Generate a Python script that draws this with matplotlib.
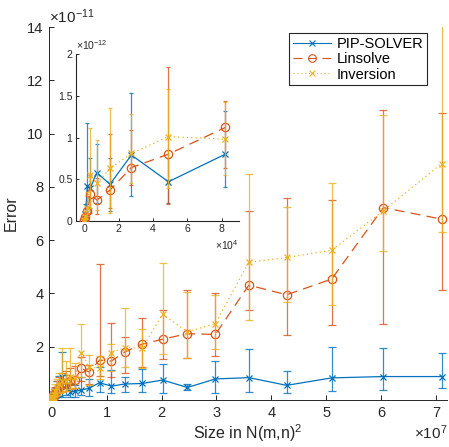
import numpy as np
import matplotlib
matplotlib.use('Agg')
import matplotlib.pyplot as plt
from matplotlib.ticker import ScalarFormatter
from matplotlib.lines import Line2D

plt.rcParams['font.family'] = ['Liberation Sans', 'DejaVu Sans']
plt.rcParams['mathtext.fontset'] = 'custom'
plt.rcParams['mathtext.rm'] = 'Liberation Sans'
plt.rcParams['mathtext.it'] = 'Liberation Sans:italic'
plt.rcParams['mathtext.bf'] = 'Liberation Sans:bold'

BLUE = '#0072BD'
ORANGE = '#D95319'
YELLOW = '#EDB120'

# ---------------- data ----------------
# small problems (shown in the inset): size in 1e4, errors in 1e-12
size_small = np.array([0.005, 0.02, 0.08, 0.19, 0.37, 0.74, 1.5, 2.75, 4.9, 8.2]) * 1e4
pip_small = np.array([0.003, 0.01, 0.08, 0.42, 0.40, 0.58, 0.44, 0.79, 0.47, 0.80]) * 1e-12
pip_small_lo = np.array([0.001, 0.005, 0.03, 0.17, 0.15, 0.21, 0.12, 0.30, 0.22, 0.41]) * 1e-12
pip_small_hi = np.array([0.01, 0.03, 0.20, 1.17, 0.76, 0.92, 0.76, 1.53, 0.75, 1.32]) * 1e-12
lin_small = np.array([0.002, 0.01, 0.05, 0.12, 0.32, 0.25, 0.37, 0.64, 0.80, 1.12]) * 1e-12
lin_small_lo = np.array([0.001, 0.003, 0.02, 0.05, 0.10, 0.08, 0.15, 0.43, 0.20, 0.63]) * 1e-12
lin_small_hi = np.array([0.005, 0.02, 0.10, 0.30, 0.55, 0.52, 1.04, 1.09, 1.85, 1.44]) * 1e-12
inv_small = np.array([0.003, 0.015, 0.06, 0.16, 0.55, 0.45, 0.63, 0.81, 1.01, 0.98]) * 1e-12
inv_small_lo = np.array([0.001, 0.005, 0.02, 0.06, 0.15, 0.13, 0.10, 0.45, 0.40, 0.55]) * 1e-12
inv_small_hi = np.array([0.008, 0.03, 0.12, 0.35, 1.11, 0.97, 1.35, 1.28, 1.58, 1.43]) * 1e-12

# large problems: size in 1e7, errors in 1e-11
size_large = np.array([0.015, 0.035, 0.06, 0.1, 0.14, 0.19, 0.26, 0.34, 0.42, 0.54, 0.68, 0.87,
                       1.085, 1.33, 1.65, 2.02, 2.47, 2.98, 3.59, 4.28, 5.10, 6.04, 7.10]) * 1e7
pip_large = np.array([0.10, 0.15, 0.22, 0.30, 0.45, 0.87, 0.55, 0.30, 0.32, 0.375, 0.44, 0.65,
                      0.52, 0.60, 0.62, 0.75, 0.47, 0.79, 0.84, 0.55, 0.83, 0.88, 0.88]) * 1e-11
pip_large_lo = np.array([0.02, 0.05, 0.08, 0.12, 0.15, 0.10, 0.20, 0.12, 0.10, 0.19, 0.15, 0.31,
                         0.28, 0.31, 0.30, 0.25, 0.37, 0.28, 0.31, 0.25, 0.35, 0.37, 0.44]) * 1e-11
pip_large_hi = np.array([0.25, 0.35, 0.45, 0.70, 0.90, 1.80, 0.95, 0.60, 0.55, 0.87, 0.80, 1.25,
                         1.12, 0.87, 1.15, 1.35, 0.60, 1.47, 1.92, 1.09, 2.00, 1.96, 1.75]) * 1e-11
lin_large = np.array([0.10, 0.18, 0.28, 0.38, 0.48, 0.55, 0.65, 0.70, 0.75, 1.19, 1.05, 1.50,
                      1.46, 1.80, 2.10, 2.28, 2.49, 2.46, 4.31, 3.95, 4.54, 7.22, 6.79]) * 1e-11
lin_large_lo = np.array([0.05, 0.08, 0.12, 0.18, 0.25, 0.30, 0.35, 0.40, 0.45, 0.70, 0.60, 0.90,
                         0.87, 1.00, 1.23, 1.53, 1.59, 1.65, 3.37, 2.44, 2.80, 2.85, 4.12]) * 1e-11
lin_large_hi = np.array([0.20, 0.35, 0.50, 0.70, 0.85, 1.00, 1.10, 1.20, 1.27, 1.60, 1.30, 5.12,
                         2.90, 2.37, 3.06, 3.37, 4.12, 4.00, 7.10, 7.60, 7.52, 10.9, 10.77]) * 1e-11
inv_large = np.array([0.12, 0.22, 0.35, 0.45, 0.60, 0.70, 0.72, 0.87, 0.82, 1.75, 1.25, 1.19,
                      1.78, 1.97, 1.95, 3.22, 2.56, 2.87, 5.17, 5.35, 5.62, 7.10, 8.87]) * 1e-11
inv_large_lo = np.array([0.05, 0.10, 0.15, 0.20, 0.25, 0.30, 0.35, 0.40, 0.45, 0.85, 0.55, 0.80,
                         1.10, 1.25, 1.20, 1.72, 1.59, 1.91, 3.00, 3.66, 3.57, 5.60, 6.31]) * 1e-11
inv_large_hi = np.array([0.25, 0.40, 0.60, 0.80, 1.00, 1.94, 1.45, 1.94, 1.40, 2.85, 1.70, 1.65,
                         2.12, 3.44, 2.65, 5.15, 4.05, 3.93, 8.47, 7.25, 8.16, 10.7, 14.07]) * 1e-11

labels = ['PIP-SOLVER', 'Linsolve', 'Inversion']

# full series for the main axes
size_all = np.concatenate([size_small, size_large])
series_main = [
    (np.concatenate([pip_small, pip_large]), np.concatenate([pip_small_lo, pip_large_lo]),
     np.concatenate([pip_small_hi, pip_large_hi])),
    (np.concatenate([lin_small, lin_large]), np.concatenate([lin_small_lo, lin_large_lo]),
     np.concatenate([lin_small_hi, lin_large_hi])),
    (np.concatenate([inv_small, inv_large]), np.concatenate([inv_small_lo, inv_large_lo]),
     np.concatenate([inv_small_hi, inv_large_hi])),
]
series_small = [
    (pip_small, pip_small_lo, pip_small_hi),
    (lin_small, lin_small_lo, lin_small_hi),
    (inv_small, inv_small_lo, inv_small_hi),
]

styles = [
    dict(color=BLUE, marker='x', ls='-'),
    dict(color=ORANGE, marker='o', ls=(0, (8, 5))),
    dict(color=YELLOW, marker='x', ls=(0, (1, 2.5))),
]


class MFormatter(ScalarFormatter):
    def __call__(self, x, pos=None):
        if len(self.locs) == 0:
            return ''
        v = x / 10 ** self.orderOfMagnitude
        return '%g' % round(v, 6)


def make_fmt(order):
    f = MFormatter(useMathText=True)
    f.set_powerlimits((order, order))
    return f


def draw(ax, x, y, lo, hi, st, ms_x, ms_o, cap, lw, zo):
    ms = ms_o if st['marker'] == 'o' else ms_x
    eb = ax.errorbar(x, y, yerr=[y - lo, hi - y], color=st['color'], marker=st['marker'],
                     linestyle=st['ls'], lw=lw, ms=ms,
                     mfc='none', mew=lw, capsize=cap, elinewidth=lw, capthick=lw, zorder=zo)
    for c in eb[1]:
        c.set_alpha(0.8)
    for c in eb[2]:
        c.set_alpha(0.8)


W, H = 449, 447
fig = plt.figure(figsize=(W / 100, H / 100), dpi=100)

AX_COL = '#262626'

# ---------------- main axes ----------------
ax = fig.add_axes([49 / W, 1 - 400 / H, (447 - 49) / W, (400 - 27) / H])
for i, (s, st) in enumerate(zip(series_main, styles)):
    draw(ax, size_all, s[0], s[1], s[2], st, 4.5, 6.0, 3.0, 0.9, 2 + i)
ax.set_xlim(-0.05e7, 7.2e7)
ax.set_ylim(0, 14e-11)
ax.set_xticks(np.arange(0, 8) * 1e7)
ax.set_yticks(np.arange(2, 15, 2) * 1e-11)
ax.xaxis.set_major_formatter(make_fmt(7))
ax.yaxis.set_major_formatter(make_fmt(-11))
for sp in ['top', 'right']:
    ax.spines[sp].set_visible(False)
for sp in ['left', 'bottom']:
    ax.spines[sp].set_color(AX_COL)
    ax.spines[sp].set_linewidth(0.7)
ax.tick_params(direction='in', length=3.5, width=0.7, colors=AX_COL, labelsize=10.5, pad=4)
ax.xaxis.get_offset_text().set_fontsize(11)
ax.yaxis.get_offset_text().set_fontsize(11)
ax.set_xlabel('Size in N(m,n)$^2$', fontsize=11.5, color=AX_COL, labelpad=2)
ax.set_ylabel('Error', fontsize=11.5, color=AX_COL, labelpad=6)

handles = [Line2D([], [], color=st['color'], marker=st['marker'], ls=st['ls'], lw=0.8,
                  ms=(5.5 if st['marker'] == 'o' else 4.5), mfc='none', mew=0.8) for st in styles]
leg = ax.legend(handles, labels, loc='upper right', bbox_to_anchor=(0.95, 0.984),
                borderaxespad=0, fontsize=10.5, frameon=True, fancybox=False,
                edgecolor='#262626', framealpha=1, handlelength=2.6, handletextpad=0.4,
                labelspacing=0.1, borderpad=0.25)
leg.get_frame().set_linewidth(0.8)

# ---------------- inset axes ----------------
ax2 = fig.add_axes([76 / W, 1 - 221 / H, (239 - 76) / W, (221 - 54) / H])
ax2.set_facecolor('white')
for i, (s, st) in enumerate(zip(series_small, styles)):
    draw(ax2, size_small, s[0], s[1], s[2], st, 5.0, 6.0, 1.2, 0.9, 2 + i)
ax2.set_xlim(-0.47e4, 9.0e4)
ax2.set_ylim(0, 2e-12)
ax2.set_xticks(np.arange(0, 9, 2) * 1e4)
ax2.set_yticks(np.array([0, 0.5, 1, 1.5, 2]) * 1e-12)
ax2.xaxis.set_major_formatter(make_fmt(4))
ax2.yaxis.set_major_formatter(make_fmt(-12))
for sp in ['top', 'right']:
    ax2.spines[sp].set_visible(False)
for sp in ['left', 'bottom']:
    ax2.spines[sp].set_color(AX_COL)
    ax2.spines[sp].set_linewidth(0.8)
ax2.tick_params(direction='in', length=2.5, width=0.7, colors=AX_COL, labelsize=7.5, pad=2.5)
ax2.xaxis.get_offset_text().set_fontsize(7.5)
ax2.yaxis.get_offset_text().set_fontsize(7.5)

fig.savefig('out.png', dpi=100)
